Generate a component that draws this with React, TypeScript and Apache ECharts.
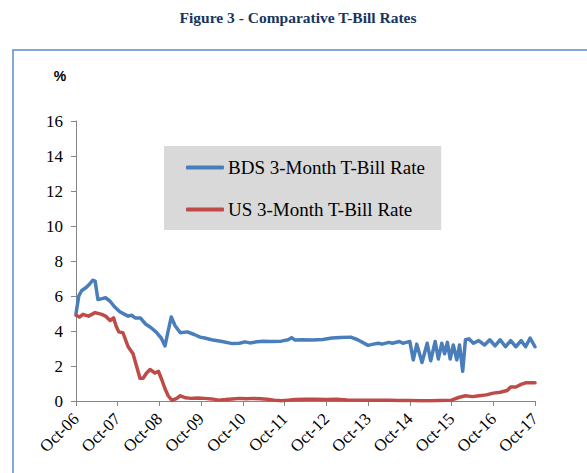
import React, { useEffect, useRef } from "react";
import * as echarts from "echarts";

const xTickLabels = ["Oct-06", "Oct-07", "Oct-08", "Oct-09", "Oct-10", "Oct-11", "Oct-12", "Oct-13", "Oct-14", "Oct-15", "Oct-16", "Oct-17"];
const yTicks = { min: 0, max: 16, interval: 2 };

// [months since Oct-06, rate %]
const bdsRates: [number, number][] = [
  [0, 5.0], [0.8, 6.0], [1.6, 6.3], [3, 6.5], [4, 6.7], [4.8, 6.9], [5.5, 6.85], [6.3, 5.8], [7.5, 5.85], [8.5, 5.9],
  [9.8, 5.7], [11, 5.4], [12.6, 5.1], [14, 4.95], [15, 4.85], [16, 4.9], [17, 4.75], [18.5, 4.75], [20, 4.4], [21.5, 4.2],
  [23, 3.95], [24.5, 3.6], [25.6, 3.15], [26.5, 4.0], [27.4, 4.8], [28.5, 4.3], [30, 3.9], [32, 3.95], [34, 3.8], [35.7, 3.65],
  [37, 3.6], [39, 3.5], [42, 3.4], [45, 3.28], [47, 3.3], [48.6, 3.38], [50, 3.32], [52, 3.38], [54, 3.42], [56, 3.4],
  [59, 3.42], [61, 3.5], [62, 3.62], [63, 3.48], [65, 3.5], [68, 3.48], [71, 3.52], [73.6, 3.6], [76, 3.63], [79, 3.65],
  [81, 3.5], [84, 3.18], [85.5, 3.25], [87, 3.3], [88, 3.25], [90, 3.35], [91, 3.3], [93, 3.4], [94, 3.3], [95, 3.35],
  [96, 3.4], [97, 2.35], [98, 3.25], [99.5, 2.2], [101, 3.3], [102, 2.3], [103.3, 3.4], [104.2, 2.4], [105.2, 3.3], [106, 2.7],
  [106.8, 3.35], [107.6, 2.4], [108.5, 3.2], [109.5, 2.35], [110.3, 3.2], [111.2, 1.7], [112, 3.5], [113, 3.55], [114.3, 3.3], [115.8, 3.45],
  [117.5, 3.2], [119, 3.5], [120.5, 3.15], [122, 3.5], [123.5, 3.1], [125, 3.45], [126.5, 3.1], [128, 3.45], [129.3, 3.1], [130.6, 3.6],
  [132, 3.1],
];

const usRates: [number, number][] = [
  [0, 4.9], [1, 4.8], [2, 4.95], [3.6, 4.85], [5.5, 5.05], [7.4, 4.95], [8.5, 4.85], [9.8, 4.6], [10.8, 4.75], [11.5, 4.3],
  [12.3, 3.95], [13.5, 3.9], [15, 3.1], [16.4, 2.7], [17.4, 2.0], [18.4, 1.3], [19.3, 1.3], [20.3, 1.6], [21.3, 1.8], [22.7, 1.6],
  [23.7, 1.7], [24.7, 1.2], [25.6, 0.7], [26.5, 0.3], [27.6, 0.03], [29, 0.15], [30, 0.3], [31.5, 0.18], [33, 0.15], [35, 0.17],
  [37, 0.15], [39, 0.12], [41, 0.05], [43, 0.08], [45, 0.12], [47, 0.15], [49, 0.13], [51, 0.15], [53, 0.13], [55, 0.1],
  [57, 0.05], [59, 0.02], [61, 0.05], [63, 0.08], [66, 0.1], [69, 0.1], [72, 0.08], [75, 0.1], [78, 0.06], [81, 0.05],
  [84, 0.04], [87, 0.05], [90, 0.04], [93, 0.03], [96, 0.03], [99, 0.02], [102, 0.02], [105, 0.03], [108, 0.05], [110, 0.2],
  [112, 0.3], [114, 0.25], [116, 0.3], [118, 0.35], [120, 0.45], [122, 0.5], [124, 0.6], [125, 0.8], [126.5, 0.8], [128, 0.95],
  [129.5, 1.05], [131, 1.05], [132, 1.05],
];

const seriesNames = ["BDS 3-Month T-Bill Rate", "US 3-Month T-Bill Rate"];
const seriesColors = ["#4A7EBB", "#BE4B48"];

export default function App() {
  const ref = useRef<HTMLDivElement>(null);
  useEffect(() => {
    if (!ref.current) return;
    const chart = echarts.init(ref.current, null, { renderer: "svg" });
    const serif = "'Liberation Serif', 'Times New Roman', serif";
    chart.setOption({
      animation: false,
      backgroundColor: "#ffffff",
      graphic: [
        {
          type: "rect",
          shape: { x: 13, y: 50, width: 620, height: 500 },
          style: { fill: "none", stroke: "#5B8BD0", lineWidth: 1.5 },
          silent: true,
        },
        {
          type: "text",
          x: 298,
          y: 17,
          style: {
            text: "Figure 3 - Comparative T-Bill Rates",
            font: "bold 15.5px " + serif,
            fill: "#17365D",
            align: "center",
            verticalAlign: "middle",
          },
        },
        {
          type: "text",
          x: 60,
          y: 76,
          style: {
            text: "%",
            font: "bold 14px 'Liberation Sans', Arial, sans-serif",
            fill: "#000",
            align: "center",
            verticalAlign: "middle",
          },
        },
      ],
      legend: {
        orient: "vertical",
        left: 164,
        top: 146,
        padding: [12, 16, 11, 22],
        backgroundColor: "#D9D9D9",
        itemWidth: 38,
        itemHeight: 4,
        itemGap: 23,
        icon: "roundRect",
        textStyle: { fontFamily: serif, fontSize: 19, color: "#000", padding: [0, 0, 0, -1] },
        data: seriesNames,
      },
      grid: { left: 76, top: 121, right: 52, bottom: 72 },
      xAxis: {
        type: "value",
        min: 0,
        max: 132,
        interval: 12,
        axisLine: { show: true, lineStyle: { color: "#868686", width: 1 } },
        axisTick: { show: true, length: 5, lineStyle: { color: "#868686" } },
        splitLine: { show: false },
        axisLabel: {
          rotate: 45,
          margin: 15,
          fontFamily: serif,
          fontSize: 17,
          color: "#000",
          formatter: (v: number) => xTickLabels[Math.round(v / 12)] ?? "",
        },
      },
      yAxis: {
        type: "value",
        min: yTicks.min,
        max: yTicks.max,
        interval: yTicks.interval,
        axisLine: { show: true, lineStyle: { color: "#868686", width: 1 } },
        axisTick: { show: true, length: 5, lineStyle: { color: "#868686" } },
        splitLine: { show: false },
        axisLabel: { margin: 13, fontFamily: serif, fontSize: 17, color: "#000" },
      },
      series: [
        {
          name: seriesNames[0],
          type: "line",
          data: bdsRates,
          symbol: "none",
          color: seriesColors[0],
          lineStyle: { width: 3.5, color: seriesColors[0], cap: "round", join: "round" },
        },
        {
          name: seriesNames[1],
          type: "line",
          data: usRates,
          symbol: "none",
          color: seriesColors[1],
          lineStyle: { width: 3.5, color: seriesColors[1], cap: "round", join: "round" },
        },
      ],
    });
    return () => chart.dispose();
  }, []);
  return <div ref={ref} style={{ position: "fixed", left: 0, top: 0, width: 587, height: 473 }} />;
}
